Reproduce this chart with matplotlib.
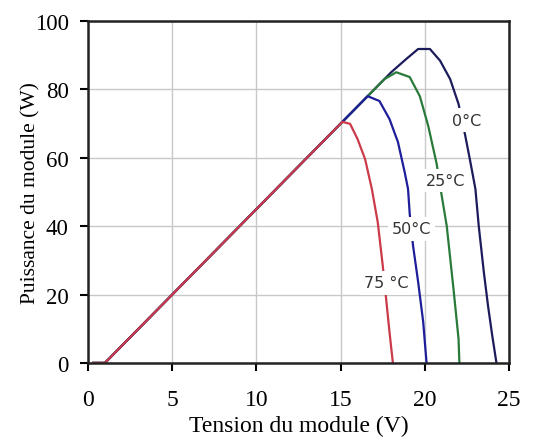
import matplotlib.pyplot as plt

# Courbes P(V) du module a differentes temperatures
v_0 = [0.3, 1.0, 5.0, 10.0, 15.0, 18.0, 18.9, 19.6, 20.3, 20.9, 21.5, 22.0, 22.4, 22.7, 23.0, 23.2, 23.5, 23.75, 24.0, 24.25]
p_0 = [0, 0, 20, 45, 70, 85, 88.9, 91.8, 91.8, 88.4, 83, 75.7, 66.4, 58.8, 50.9, 40, 26.6, 16.7, 8, 0]

v_25 = [0.3, 1.0, 5.0, 10.0, 15.0, 17.6, 18.3, 19.1, 19.7, 20.2, 20.7, 21.0, 21.3, 21.7, 22.0, 22.05]
p_25 = [0, 0, 20, 45, 70, 83, 85, 83.6, 78, 69.3, 58.2, 48.9, 40, 21.6, 7, 0]

v_50 = [0.3, 1.0, 5.0, 10.0, 15.0, 16.2, 16.6, 17.3, 17.9, 18.4, 18.8, 19.0, 19.1, 19.3, 19.6, 19.9, 20.1]
p_50 = [0, 0, 20, 45, 70, 76, 78, 76.6, 71.3, 64.6, 55.8, 50.9, 43.6, 34.2, 23.7, 12, 0]

v_75 = [0.3, 1.0, 5.0, 10.0, 14.8, 15.1, 15.56, 16.0, 16.45, 16.85, 17.2, 17.5, 17.7, 17.9, 18.1]
p_75 = [0, 0, 20, 45, 69, 70.5, 69.9, 65.5, 59.6, 50.9, 41.2, 28.4, 18.7, 9, 0]

labels = ['0°C', '25°C', '50°C', '75 °C']
label_v = [22.45, 21.2, 19.2, 17.7]
label_p = [71, 53.3, 39.2, 23.4]

plt.rcParams['font.family'] = 'Liberation Serif'

fig = plt.figure(figsize=(5.37, 4.39), dpi=100)
ax = fig.add_axes([0.164, 0.171, 0.784, 0.779])

ax.plot(v_0, p_0, color='#1c1c5c', lw=1.6)
ax.plot(v_25, p_25, color='#2a7a3a', lw=1.6)
ax.plot(v_50, p_50, color='#1e1e9a', lw=1.6)
ax.plot(v_75, p_75, color='#cc3a4a', lw=1.6)

for txt, x, y in zip(labels, label_v, label_p):
    ax.text(x, y, txt, family='DejaVu Sans', fontsize=11.5, color='#333333',
            ha='center', va='center',
            bbox=dict(facecolor='white', edgecolor='none', pad=3))

ax.set_xlim(0, 25)
ax.set_ylim(0, 100)
ax.set_xticks([0, 5, 10, 15, 20, 25])
ax.set_yticks([0, 20, 40, 60, 80, 100])
ax.grid(color='#c8c8c8', lw=1)
ax.set_axisbelow(True)
for s in ax.spines.values():
    s.set_linewidth(1.8)
    s.set_color('#222222')
ax.tick_params(direction='out', length=6, width=1.5)
ax.tick_params(axis='x', labelsize=17, pad=13)
ax.tick_params(axis='y', labelsize=16.5, pad=8)
ax.set_xlabel('Tension du module (V)', fontsize=17, labelpad=3)
ax.set_ylabel('Puissance du module (W)', fontsize=15.5, labelpad=-4)

fig.savefig('out.png', dpi=100)
